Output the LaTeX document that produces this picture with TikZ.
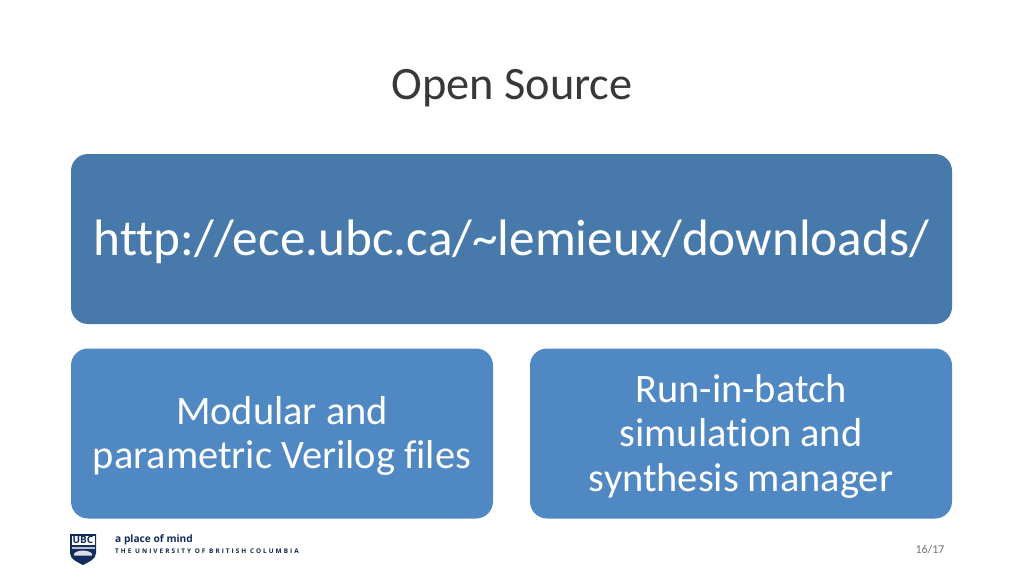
\documentclass[tikz,border=0pt]{standalone}
\usepackage{fontspec}
\setmainfont[RawFeature={-liga}]{Carlito}
\newfontfamily\ubcfont{Open Sans}
\usepackage{tikz}
\usetikzlibrary{positioning}
\definecolor{darkbox}{RGB}{71,122,171}
\definecolor{lightbox}{RGB}{79,136,194}
\definecolor{ubcnavy}{RGB}{18,44,92}
\tikzset{box/.style={rounded corners=17pt,outer sep=0pt,inner sep=0pt,align=center,text=white,fill=lightbox}}
\newcommand{\boxlines}[2]{\raisebox{#1}[\height][\depth]{\begin{tabular}{@{}c@{}}#2\end{tabular}}}
\begin{document}
\begin{tikzpicture}[x=1pt,y=1pt,node distance=25pt and 37pt]
  \useasboundingbox[fill=white] (0,0) rectangle (1024,-576);
  \node(title)[font=\fontsize{46.4}{52}\selectfont,text=black!78] at (512,-88.5) {Open Source};
  \node(url)[box,fill=darkbox,minimum width=881pt,minimum height=170pt,font=\fontsize{51.2}{58}\selectfont] at (511.5,-239) {\boxlines{-5pt}{http://ece.ubc.ca/\char`\~lemieux/downloads/}};
  \node(verilog)[box,minimum width=422pt,minimum height=170pt,font=\fontsize{40.4}{44.5}\selectfont,below=24.5pt of url.south west,anchor=north west] {\boxlines{-4pt}{Modular and\\parametric Verilog files}};
  \node(batch)[box,minimum width=422pt,minimum height=170pt,font=\fontsize{40.4}{44.5}\selectfont,below=24.5pt of url.south east,anchor=north east] {\boxlines{-4.5pt}{Run-in-batch\\simulation and\\synthesis manager}};
  % logo
  \fill[ubcnavy] (70,-534) -- (96,-534) -- (96,-553) .. controls (96,-559) and (89,-562) .. (83,-565) .. controls (77,-562) and (70,-559) .. (70,-553) -- cycle;
  \fill[white] (71.5,-535.5) rectangle (94.5,-545);
  \fill[white!70!ubcnavy] (71.5,-546.5) rectangle (94.5,-549);
  \node(ubc)[text=ubcnavy,font=\ubcfont\bfseries\fontsize{10}{10}\selectfont,inner sep=0pt] at (83,-540.3) {UBC};
  \fill[white!85!ubcnavy] (74,-554) .. controls (76,-549.5) and (90,-549.5) .. (92,-554) -- (92,-555.5) -- (74,-555.5) -- cycle;
  \node(mind)[anchor=west,inner sep=0pt,text=ubcnavy,font=\ubcfont\bfseries\fontsize{10.2}{10}\selectfont] at (115,-539.5) {a place of mind};
  \node(ubcname)[anchor=west,inner sep=0pt,text=ubcnavy!80!black,font=\ubcfont\bfseries\fontsize{6.4}{8}\selectfont] at (115,-551.5) {\addfontfeature{LetterSpace=32}THE UNIVERSITY OF BRITISH COLUMBIA};
  \node(page)[text=black!55,font=\fontsize{12}{14}\selectfont,inner sep=0pt] at (930,-549.5) {16/17};
\end{tikzpicture}
\end{document}
